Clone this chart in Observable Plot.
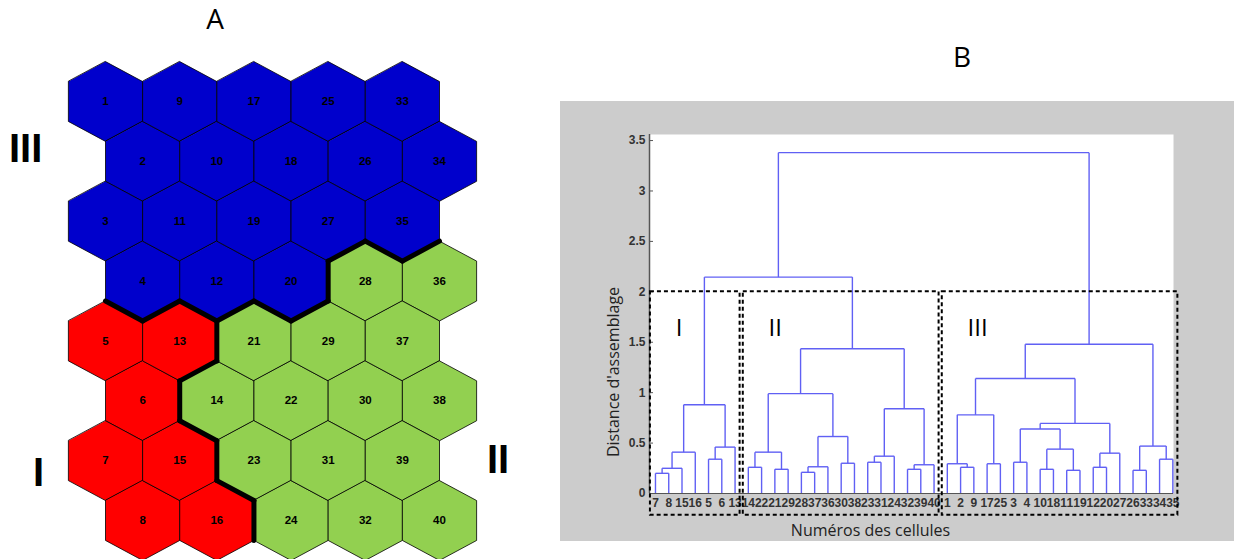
<!DOCTYPE html>
<html><head><meta charset="utf-8">
<script src="https://cdn.jsdelivr.net/npm/d3@7"></script>
<script src="https://cdn.jsdelivr.net/npm/@observablehq/plot@0.6"></script>
<style>
body{margin:0;background:#fff;}
#wrap{position:relative;width:1234px;height:559px;overflow:hidden;}
.abs{position:absolute;white-space:nowrap;line-height:1;}
.ttl{font-family:"Open Sans",sans-serif;font-size:28px;color:#000;}
.rom{font-family:"Liberation Sans",Arial,sans-serif;font-weight:bold;font-size:40px;color:#000;}
</style></head><body><div id="wrap"></div>
<script>
// ---- data ----
const clusterNames = ["I", "II", "III"];
const clusterColors = ["#ff0000", "#92d050", "#0000cc"];
const clusterI = [5, 6, 7, 8, 13, 15, 16];
const clusterII = [14, 21, 22, 23, 24, 28, 29, 30, 31, 32, 36, 37, 38, 39, 40];
const clusterIII = [1, 2, 3, 4, 9, 10, 11, 12, 17, 18, 19, 20, 25, 26, 27, 33, 34, 35];
const nCells = 40, rowsPerCol = 8;
const leafOrder = [7, 8, 15, 16, 5, 6, 13, 14, 22, 21, 29, 28, 37, 36, 30, 38, 23, 31, 24, 32, 39, 40,
  1, 2, 9, 17, 25, 3, 4, 10, 18, 11, 19, 12, 20, 27, 26, 33, 34, 35];
// linkage: [nodeA, nodeB, height]; new node id = 41 + row index
const merges = [
  [7, 8, 0.20], [41, 15, 0.25], [42, 16, 0.41], [5, 6, 0.34], [44, 13, 0.46], [43, 45, 0.88],
  [14, 22, 0.26], [21, 29, 0.24], [47, 48, 0.41], [28, 37, 0.21], [50, 36, 0.265], [30, 38, 0.30],
  [51, 52, 0.565], [49, 53, 0.99], [23, 31, 0.31], [55, 24, 0.37], [32, 39, 0.24], [57, 40, 0.285],
  [56, 58, 0.84], [54, 59, 1.435], [46, 60, 2.146],
  [2, 9, 0.26], [1, 62, 0.295], [17, 25, 0.295], [63, 64, 0.78], [3, 4, 0.31], [10, 18, 0.24],
  [11, 19, 0.23], [67, 68, 0.44], [66, 69, 0.64], [12, 20, 0.26], [71, 27, 0.40], [70, 72, 0.695],
  [65, 73, 1.14], [26, 33, 0.23], [34, 35, 0.34], [75, 76, 0.47], [74, 77, 1.48], [61, 78, 3.38]
];
const yTicks = [0, 0.5, 1, 1.5, 2, 2.5, 3, 3.5];
const boxTop = 2.0, boxBottom = -0.215;

// ---- panel A: hexagonal map ----
const clusterOf = new Map();
clusterI.forEach(c => clusterOf.set(c, "I"));
clusterII.forEach(c => clusterOf.set(c, "II"));
clusterIII.forEach(c => clusterOf.set(c, "III"));
const cellData = d3.range(1, nCells + 1).map(n => {
  const j = Math.floor((n - 1) / rowsPerCol), i = (n - 1) % rowsPerCol;
  return {cell: n, cluster: clusterOf.get(n), cx: j + (i % 2 ? 0.5 : 0), cy: i};
});
const vOff = [[0, -2/3], [0.5, -1/3], [0.5, 1/3], [0, 2/3], [-0.5, 1/3], [-0.5, -1/3]];
const hexVerts = cellData.flatMap(c => vOff.map(([dx, dy]) => ({cell: c.cell, cluster: c.cluster, x: c.cx + dx, y: c.cy + dy})));
const byPos = new Map(cellData.map(c => [`${c.cx},${c.cy}`, c]));
const dirs = [[1, 0, 1, 2], [0.5, 1, 2, 3], [-0.5, 1, 3, 4]];
const edges = [];
cellData.forEach(c => dirs.forEach(([dx, dy, a, b]) => {
  const nb = byPos.get(`${c.cx + dx},${c.cy + dy}`);
  if (nb && nb.cluster !== c.cluster) edges.push({
    x1: c.cx + vOff[a][0], y1: c.cy + vOff[a][1], x2: c.cx + vOff[b][0], y2: c.cy + vOff[b][1]});
}));

const plotA = Plot.plot({
  width: 560, height: 559, margin: 0,
  x: {domain: [0, 4.5], range: [105, 439], axis: null},
  y: {domain: [0, 7], range: [101, 520], axis: null},
  color: {domain: clusterNames, range: clusterColors},
  style: {background: "transparent", overflow: "visible", fontFamily: "'Liberation Sans', Arial, sans-serif"},
  marks: [
    Plot.line(hexVerts, {x: "x", y: "y", z: "cell", fill: "cluster", stroke: "#000", strokeWidth: 0.8, curve: "linear-closed"}),
    Plot.link(edges, {x1: "x1", y1: "y1", x2: "x2", y2: "y2", stroke: "#000", strokeWidth: 5, strokeLinecap: "round"}),
    Plot.text(cellData, {x: "cx", y: "cy", text: d => String(d.cell), fontWeight: "bold", fontSize: 11.5, fill: "#000"})
  ]
});

// ---- panel B: dendrogram ----
const pos = new Map();
leafOrder.forEach((c, i) => pos.set(c, {x: i + 1, h: 0}));
const segs = [];
merges.forEach(([a, b, h], k) => {
  const A = pos.get(a), B = pos.get(b);
  segs.push({x1: A.x, y1: A.h, x2: A.x, y2: h});
  segs.push({x1: B.x, y1: B.h, x2: B.x, y2: h});
  segs.push({x1: A.x, y1: h, x2: B.x, y2: h});
  pos.set(leafOrder.length + 1 + k, {x: (A.x + B.x) / 2, h});
});
const boxes = clusterNames.map(name => {
  const idx = leafOrder.map((c, i) => clusterOf.get(c) === name ? i + 1 : null).filter(v => v !== null);
  return {name, x1: d3.min(idx) - 0.38, x2: d3.max(idx) + 0.38};
});
const xMin = 0.55, xMax = 40.05;
const narrow = "'Liberation Sans Narrow', 'Liberation Sans', Arial, sans-serif";

const plotB = Plot.plot({
  width: 674, height: 440, marginLeft: 89, marginRight: 61, marginTop: 33, marginBottom: 48,
  x: {domain: [xMin, xMax], axis: null},
  y: {domain: [0, 3.56], axis: null},
  style: {background: "#cccccc", overflow: "visible", fontFamily: "'Open Sans', sans-serif"},
  marks: [
    Plot.frame({fill: "#ffffff", stroke: "none"}),
    Plot.link(segs, {x1: "x1", y1: "y1", x2: "x2", y2: "y2", stroke: "#6060f4", strokeWidth: 1.4}),
    Plot.ruleX([xMin], {stroke: "#555", strokeWidth: 1.5}),
    Plot.ruleY([0], {stroke: "#555", strokeWidth: 1.2}),
    Plot.tickY(yTicks, {y: d => d, stroke: "#555", insetRight: 520}),
    Plot.text(yTicks, {x: () => xMin, y: d => d, text: d => String(d), textAnchor: "end", dx: -4,
      fontWeight: "bold", fontSize: 12, fill: "#333", fontFamily: narrow}),
    Plot.text(leafOrder, {x: (d, i) => i + 1, y: () => 0, dy: 10, text: d => String(d),
      fontWeight: "bold", fontSize: 12, fill: "#333", fontFamily: narrow}),
    Plot.rect(boxes, {x1: "x1", x2: "x2", y1: () => boxBottom, y2: () => boxTop, fill: "none",
      stroke: "#000", strokeWidth: 2, strokeDasharray: "4,3"}),
    Plot.text(boxes, {x: d => d.x1 + 1.9, y: () => 1.64, text: "name", textAnchor: "start",
      fontSize: 24, fill: "#000"}),
    Plot.text(["Distance d'assemblage"], {frameAnchor: "left", textAnchor: "middle", lineAnchor: "middle",
      rotate: -90, dx: -36, dy: 58, fontSize: 16, fill: "#222"}),
    Plot.text(["Numéros des cellules"], {frameAnchor: "bottom", textAnchor: "middle", lineAnchor: "middle",
      dx: -41, dy: 37, fontSize: 16, fill: "#222"})
  ]
});

// ---- assemble ----
const wrap = document.getElementById("wrap");
plotA.style.position = "absolute"; plotA.style.left = "0px"; plotA.style.top = "0px";
plotB.style.position = "absolute"; plotB.style.left = "560px"; plotB.style.top = "101px";
wrap.appendChild(plotA);
wrap.appendChild(plotB);
function label(txt, cls, left, top, center) {
  const d = document.createElement("div");
  d.className = "abs " + cls;
  d.textContent = txt;
  d.style.left = left + "px"; d.style.top = top + "px";
  if (center) d.style.transform = "translateX(-50%)";
  wrap.appendChild(d);
}
label("A", "ttl", 215, 4, true);
label("B", "ttl", 962, 42, true);
label("III", "rom", 9, 128, false);
label("I", "rom", 33, 452, false);
label("II", "rom", 487, 439, false);
</script></body></html>
